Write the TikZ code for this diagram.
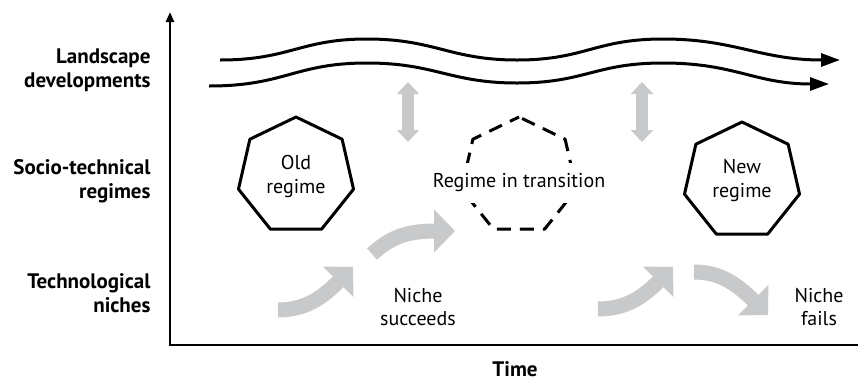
\documentclass[tikz,border=0pt]{standalone}
\usepackage{fontspec}
\setmainfont{PT Sans}
\usetikzlibrary{arrows.meta,shapes.geometric}
\definecolor{arrgray}{HTML}{C8C9CB}
\begin{document}
\begin{tikzpicture}[x=1pt,y=-1pt,
  hept/.style={regular polygon, regular polygon sides=7, minimum size=118pt, inner sep=0pt, line width=3pt, line join=round, align=center, font=\fontsize{20}{24}\selectfont},
  lbl/.style={anchor=east, align=right, font=\fontsize{21}{23.5}\selectfont\bfseries},
  txt/.style={align=center, font=\fontsize{20}{23.5}\selectfont},
  wave/.style={line width=3pt, -{Triangle[width=13pt,length=19pt]}},
  garrow/.style={draw=arrgray, line width=15pt, -{Triangle[width=42pt,length=21pt]}},
  dblarrow/.style={draw=arrgray, line width=12pt, {Triangle[width=22pt,length=12pt]}-{Triangle[width=22pt,length=12pt]}},
  axis/.style={line width=2.5pt},
]
\useasboundingbox (0,0) rectangle (858,381);
% axes
\coordinate (origin) at (170,345);
\coordinate (ytop) at (170,12);
\coordinate (xend) at (858,345);
\draw[axis, -{Triangle[width=8pt,length=10pt]}] (xend) -- (origin) -- (ytop);
% labels
\node[lbl] (land) at (154,70) {Landscape\\developments};
\node[lbl] (socio) at (154,181) {Socio-technical\\regimes};
\node[lbl] (tech) at (154,293) {Technological\\niches};
\node[font=\fontsize{21}{23}\selectfont\bfseries, inner sep=0pt] (time) at (515,369) {Time};
% landscape waves
\coordinate (w1s) at (220,60);
\coordinate (w1e) at (840,60);
\coordinate (w2s) at (209,86);
\coordinate (w2e) at (829,84);
\draw[wave] (w1s) .. controls (290,60) and (300,39) .. (367,39)
  .. controls (435,39) and (450,60) .. (517,60)
  .. controls (585,60) and (595,39) .. (663,39)
  .. controls (735,39) and (760,60) .. (w1e);
\draw[wave] (w2s) .. controls (285,86) and (295,63) .. (367,63)
  .. controls (435,63) and (450,83) .. (517,83)
  .. controls (585,83) and (595,63) .. (663,63)
  .. controls (735,63) and (755,84) .. (w2e);
% double arrows
\coordinate (d1t) at (408,82);
\coordinate (d1b) at (408,142);
\coordinate (d2t) at (642,82);
\coordinate (d2b) at (642,142);
\draw[dblarrow] (d1t) -- (d1b);
\draw[dblarrow] (d2t) -- (d2b);
% regimes
\node[hept, draw] (old) at (296,176) {Old\\regime};
\node[hept, draw, dash pattern=on 14pt off 9pt, dash phase=4pt] (trans) at (519,176) {};
\node[txt, fill=white, inner xsep=2pt, inner ysep=11pt] (transtxt) at (519,183) {Regime in transition};
\node[hept, draw] (new) at (742,181) {New\\regime};
% niche arrows
\coordinate (a1s) at (278,310);
\coordinate (a1e) at (353,267);
\draw[garrow] (a1s) .. controls (305,310) and (322,298) .. (a1e);
\coordinate (a2s) at (372,254);
\coordinate (a2e) at (455,231);
\draw[garrow] (a2s) .. controls (390,238) and (405,231) .. (a2e);
\coordinate (a3s) at (598,309);
\coordinate (a3e) at (673,267);
\draw[garrow] (a3s) .. controls (625,309) and (642,298) .. (a3e);
\coordinate (a4s) at (694,272);
\coordinate (a4e) at (768,315);
\draw[garrow] (a4s) .. controls (718,272) and (735,282) .. (a4e);
% niche texts
\node[txt] (succ) at (418,307) {Niche\\succeeds};
\node[txt] (fail) at (819,307) {Niche\\fails};
\end{tikzpicture}
\end{document}
